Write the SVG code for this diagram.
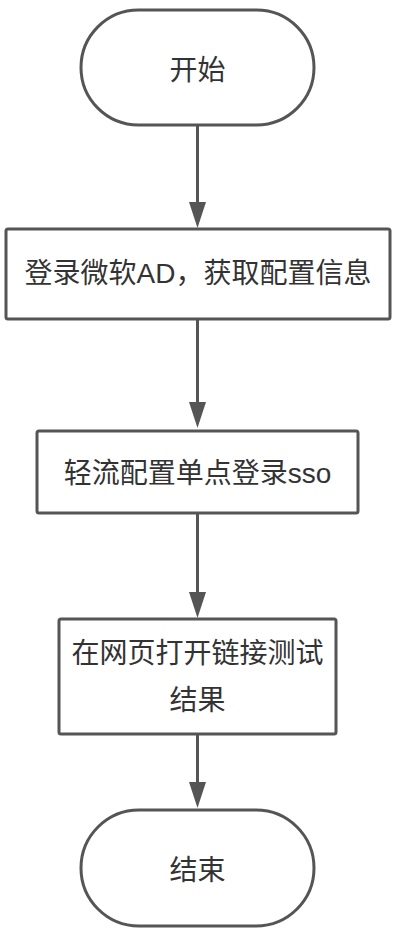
<svg xmlns="http://www.w3.org/2000/svg" width="400" height="936" viewBox="0 0 400 936">
<defs>
<style>
.n{fill:#fff;stroke:#555;stroke-width:3}
.t{font-family:"Liberation Sans","Noto Sans CJK SC",sans-serif;font-size:28px;fill:#333;text-anchor:middle;dominant-baseline:central}
.c{stroke:#555;stroke-width:3;fill:none}
</style>
<marker id="ah" markerWidth="26" markerHeight="17" refX="1" refY="8.5" orient="auto" markerUnits="userSpaceOnUse" viewBox="0 0 26 17">
<path d="M0,0 L26,8.5 L0,17 z" fill="#555"/>
</marker>
</defs>
<g id="connectors">
<path class="c" d="M197.5,125 V203" marker-end="url(#ah)"/>
<path class="c" d="M197.5,319 V403" marker-end="url(#ah)"/>
<path class="c" d="M197.5,513 V593" marker-end="url(#ah)"/>
<path class="c" d="M197.5,734 V783" marker-end="url(#ah)"/>
</g>
<g id="start">
<rect class="n" x="81" y="10" width="233" height="115" rx="57.5" ry="57.5"/>
<text class="t" x="197.5" y="70">开始</text>
</g>
<g id="step1">
<rect class="n" x="6" y="229" width="384" height="90" rx="2"/>
<text class="t" x="198" y="273">登录微软AD，获取配置信息</text>
</g>
<g id="step2">
<rect class="n" x="37" y="431" width="321" height="82" rx="2"/>
<text class="t" x="197.5" y="473">轻流配置单点登录sso</text>
</g>
<g id="step3">
<rect class="n" x="59" y="619" width="277" height="115" rx="2"/>
<text class="t" x="197.5" y="653">在网页打开链接测试</text>
<text class="t" x="197.5" y="700">结果</text>
</g>
<g id="end">
<rect class="n" x="81" y="810" width="233" height="116" rx="58" ry="58"/>
<text class="t" x="197.5" y="870">结束</text>
</g>
</svg>
